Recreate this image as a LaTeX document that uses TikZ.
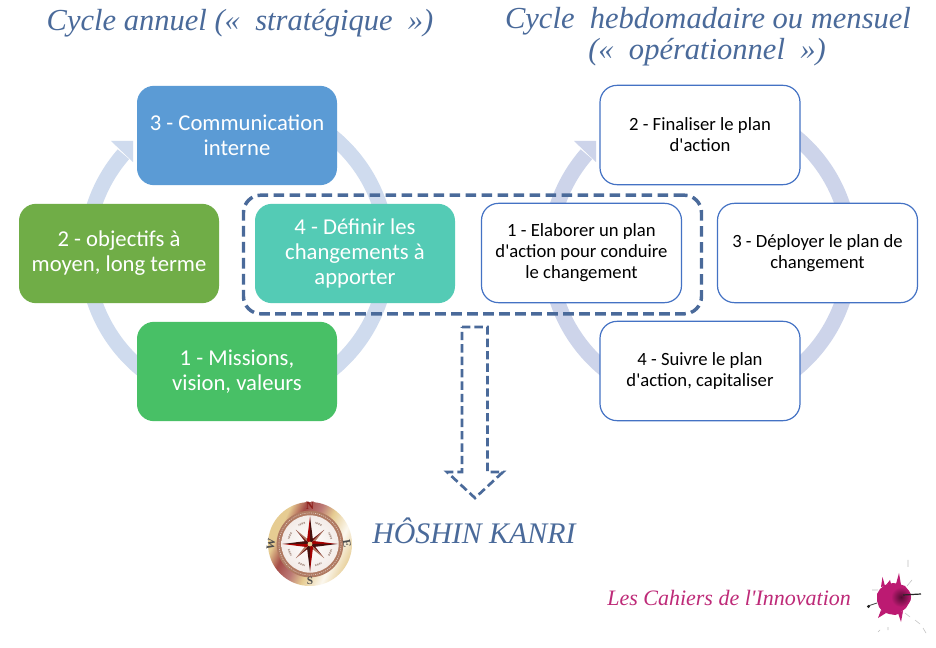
\documentclass[tikz,border=0pt]{standalone}
\usepackage{fontspec}
\usetikzlibrary{calc}
\setmainfont{Carlito}[Ligatures=TeXOff]
\newfontfamily\corsiva{Liberation Serif}[Ligatures=TeXOff]
\definecolor{dashblue}{HTML}{4A6A9A}
\definecolor{ringA}{HTML}{CFDBEE}
\definecolor{ringB}{HTML}{CDD4EA}
\definecolor{boxblue}{HTML}{5B9BD5}
\definecolor{boxolive}{HTML}{70AD47}
\definecolor{boxteal}{HTML}{54CBB5}
\definecolor{boxgreen}{HTML}{48C066}
\definecolor{boxline}{HTML}{4472C4}
\definecolor{rose}{HTML}{BE2A78}
\definecolor{blot}{HTML}{BC1A72}
\definecolor{cdred}{HTML}{8E1F1A}
\definecolor{cdbrown}{HTML}{B07A62}
\definecolor{cdgold}{HTML}{E6CC92}
\pgfdeclarehorizontalshading{ringshade}{100bp}{color(0bp)=(cdgold);color(30bp)=(cdgold);color(38bp)=(cdred!80);color(47bp)=(cdred!60);color(55bp)=(cdgold);color(66bp)=(white!85!cdgold);color(76bp)=(cdgold);color(100bp)=(cdgold)}
\tikzset{
  x=0.75pt,y=0.75pt,
  box/.style={rounded corners=12.75pt,minimum width=150pt,minimum height=74.5pt,inner sep=0pt,outer sep=0pt,align=center},
  solidbox/.style={box,text=white,font=\fontsize{17}{18.75}\selectfont},
  linebox/.style={box,draw=boxline,line width=0.9pt,fill=white,text=black,font=\fontsize{14}{15.75}\selectfont},
  ringlineA/.style={draw=ringA,line width=11.3pt},
  ringlineB/.style={draw=ringB,line width=11.3pt},
  grouping/.style={draw=dashblue,line width=2.6pt,dash pattern=on 8pt off 4pt,rounded corners=13pt,minimum width=343.5pt,minimum height=89pt,inner sep=0pt,outer sep=0pt},
  blockarrow/.style={draw=dashblue,line width=2pt,dash pattern=on 6.3pt off 3pt},
  titletext/.style={text=dashblue,inner sep=0pt,anchor=base,font=\corsiva\itshape\fontsize{22.9}{24}\selectfont},
  bearing/.style={inner sep=0pt,text=black!70,font=\corsiva\bfseries\fontsize{8.5}{9}\selectfont},
}
\begin{document}
\begin{tikzpicture}
\useasboundingbox (0,0) rectangle (936,-648);
\fill[white] (0,0) rectangle (936,-648);
% cycle rings
\draw[ringlineA] (237,-253) ++(90:112.875pt) arc[start angle=90,end angle=-221,radius=112.875pt];
\fill[ringA] (111,-141) -- (133,-141) -- (133,-162) -- cycle;
\draw[ringlineB] (700,-253) ++(90:112.875pt) arc[start angle=90,end angle=-221,radius=112.875pt];
\fill[ringB] (574,-141) -- (596,-141) -- (596,-162) -- cycle;
% titles
\node[titletext] (t1) at (240,-31) {Cycle annuel (« \ stratégique \ »)};
\node[titletext] (t2) at (708,-29) {Cycle \ hebdomadaire ou mensuel};
\node[titletext] (t3) at (707,-60) {(« \ opérationnel \ »)};
% grouping frame
\node[grouping] (group) at (472.5,-254.5) {};
% strategic cycle
\node[solidbox,fill=boxblue] (s3) at (237,-135.5) {3 - Communication\\interne};
\node[solidbox,fill=boxolive] (s2) at (119,-253.5) {2 - objectifs à\\moyen, long terme};
\node[solidbox,fill=boxteal] (s4) at (355,-253.5) {4 - Définir les\\changements à\\apporter};
\node[solidbox,fill=boxgreen] (s1) at (237,-371.5) {1 - Missions,\\vision, valeurs};
% operational cycle
\node[linebox] (o2) at (700,-135) {2 - Finaliser le plan\\d'action};
\node[linebox] (o1) at (581.5,-253) {1 - Elaborer un plan\\d'action pour conduire\\le changement};
\node[linebox] (o3) at (817.5,-253) {3 - Déployer le plan de\\changement};
\node[linebox] (o4) at (700,-371) {4 - Suivre le plan\\d'action, capitaliser};
% dashed block arrow
\draw[blockarrow] (462,-327) -- (487.5,-327) -- (487.5,-472) -- (503,-472) -- (475,-498) -- (447,-472) -- (462,-472) -- cycle;
% compass
\shade[shading=ringshade,shading angle=-25] (310,-544) circle[radius=31.5pt];
\fill[cdbrown] (310,-544) circle[radius=25pt];
\draw[white!70!cdbrown,line width=0.4pt,dash pattern=on 0.8pt off 0.8pt] (310,-544) circle[radius=23.3pt];
\shade[inner color=white,outer color=white!85!cdbrown] (310,-544) circle[radius=21.5pt];
\foreach \a in {22.5,67.5,...,337.5}{
  \draw[cdbrown!70!black!60,line width=1.3pt,dash pattern=on 1pt off 0.6pt] (310,-544) ++(\a-9:16.5pt) arc[start angle=\a-9,end angle=\a+9,radius=16.5pt];
}
\foreach \a in {45,135,225,315}{
  \fill[cdred!80!black] (310,-544) -- ++(\a+30:3pt) -- ($(310,-544)+(\a:15pt)$) -- cycle;
  \fill[cdbrown] (310,-544) -- ++(\a-30:3pt) -- ($(310,-544)+(\a:15pt)$) -- cycle;
}
\foreach \a in {0,90,180,270}{
  \fill[red!65!black] (310,-544) -- ++(\a+42:3.4pt) -- ($(310,-544)+(\a:20.5pt)$) -- cycle;
  \fill[black!50!cdred] (310,-544) -- ++(\a-42:3.4pt) -- ($(310,-544)+(\a:20.5pt)$) -- cycle;
}
\fill[cdgold] (310,-544) circle[radius=1.8pt];
\node[bearing,text=cdred] (cn) at (310,-506) {N};
\node[bearing,rotate=-80] (ce) at (347,-544) {E};
\node[bearing] (cs) at (310,-581) {S};
\node[bearing,rotate=80] (cw) at (271,-544) {W};
\node[titletext,font=\corsiva\itshape\fontsize{22.4}{24}\selectfont,anchor=base west] (hk) at (372,-544) {HÔSHIN KANRI};
% signature
\node[titletext,text=rose,font=\corsiva\itshape\fontsize{16.5}{18}\selectfont,anchor=base west] (lc) at (607,-605) {Les Cahiers de l'Innovation};
% ink blot
\fill[blot] plot[smooth cycle,tension=0.9] coordinates {
 (893,-583)(899,-584)(905,-586)(909,-591)(911,-597)(909,-603)(906,-608)(901,-612)(895,-615)(889,-614)(883,-612)(879,-607)(877,-601)(877,-594)(880,-589)(885,-585)};
\fill[blot] (881,-587) -- (882.5,-577) -- (885,-586) -- cycle;
\fill[blot] (886,-585) -- (890,-580) -- (891,-584) -- cycle;
\fill[blot] (896,-584) -- (899,-573) -- (901,-585) -- cycle;
\fill[blot] (898,-613) -- (901,-622) -- (903,-611) -- cycle;
\fill[blot] (881,-610) -- (878,-618) -- (886,-613) -- cycle;
\shade[inner color=black!55!blot,outer color=blot] (901,-597) circle[radius=7.5pt];
\draw[black!85,line width=0.9pt] (903,-595) -- (921,-594);
\draw[black!70,line width=0.6pt] (877,-603) -- (868,-606);
\fill[black!85] (868.5,-606.5) circle[radius=1.2pt];
\draw[black!25,line width=0.4pt] (907,-586) -- (912,-580) (905,-613) -- (910,-617) (915,-620) -- (920,-624) (923,-628) -- (926,-633) (888,-627) -- (888,-630) (878,-632) -- (880,-630) (908,-567) -- (908,-560) (878,-590) -- (872,-590);
\end{tikzpicture}
\end{document}
